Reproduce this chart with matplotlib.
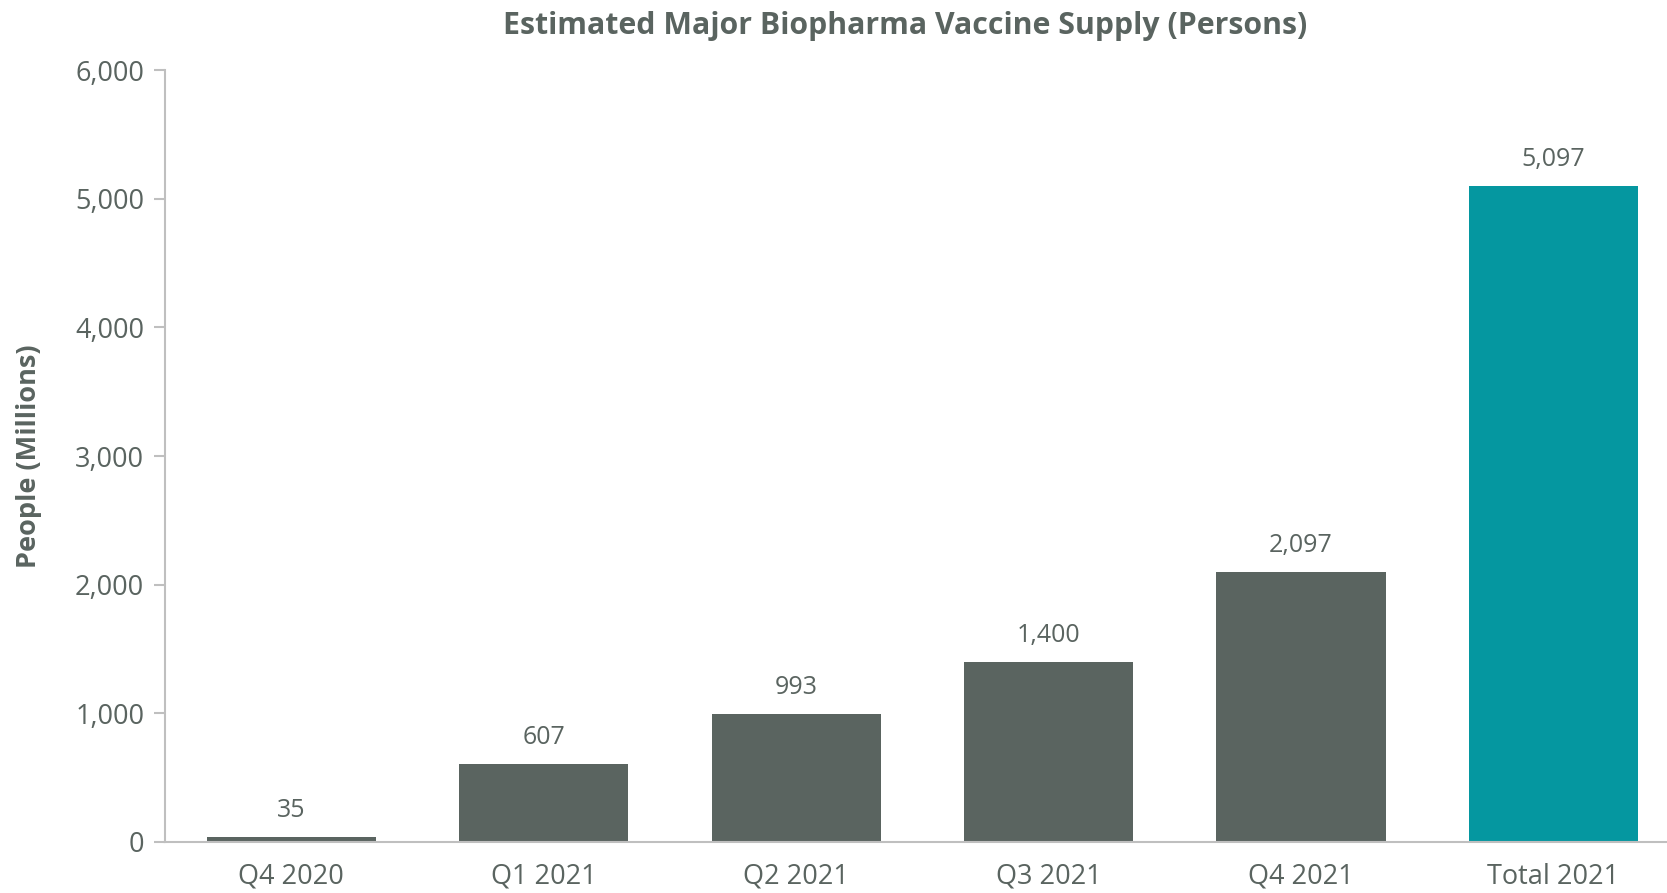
import matplotlib.pyplot as plt
from matplotlib.ticker import FuncFormatter

categories = ["Q4 2020", "Q1 2021", "Q2 2021", "Q3 2021", "Q4 2021", "Total 2021"]
people = [35, 607, 993, 1400, 2097, 5097]
labels = ["35", "607", "993", "1,400", "2,097", "5,097"]

gray = "#5a6460"
teal = "#0597a0"
txt = "#5a6460"
colors = [gray] * 5 + [teal]

plt.rcParams["font.family"] = ["Open Sans", "DejaVu Sans"]

fig = plt.figure(figsize=(16.67, 8.93), dpi=100)
ax = fig.add_axes([165 / 1667, 1 - 842 / 893, 1 - 165 / 1667, (842 - 70) / 893])

x = range(len(categories))
bars = ax.bar(x, people, width=0.67, color=colors, zorder=2)
for b, lab in zip(bars, labels):
    ax.text(b.get_x() + b.get_width() / 2, b.get_height() + 110, lab,
            ha="center", va="bottom", fontsize=18, color=txt)

ax.set_ylim(0, 6000)
ax.set_xlim(-0.5, 5.45)
ax.set_yticks(range(0, 6001, 1000))
ax.yaxis.set_major_formatter(FuncFormatter(lambda v, p: f"{int(v):,}"))
ax.set_xticks(list(x))
ax.set_xticklabels(categories)

for s in ["top", "right"]:
    ax.spines[s].set_visible(False)
for s in ["left", "bottom"]:
    ax.spines[s].set_color("#bfbfbf")
    ax.spines[s].set_linewidth(1.5)
ax.tick_params(axis="y", length=8, width=1.5, color="#bfbfbf", labelsize=19.5, labelcolor=txt, pad=7)
ax.tick_params(axis="x", length=0, labelsize=19.5, labelcolor=txt, pad=15)

ax.set_ylabel("People (Millions)", fontsize=19.5, fontweight="bold", color=txt, labelpad=24)
fig.text(0.543, 1 - 26 / 893, "Estimated Major Biopharma Vaccine Supply (Persons)",
         ha="center", va="center", fontsize=21.8, fontweight="bold", color=txt)

fig.savefig("out.png", dpi=100)
